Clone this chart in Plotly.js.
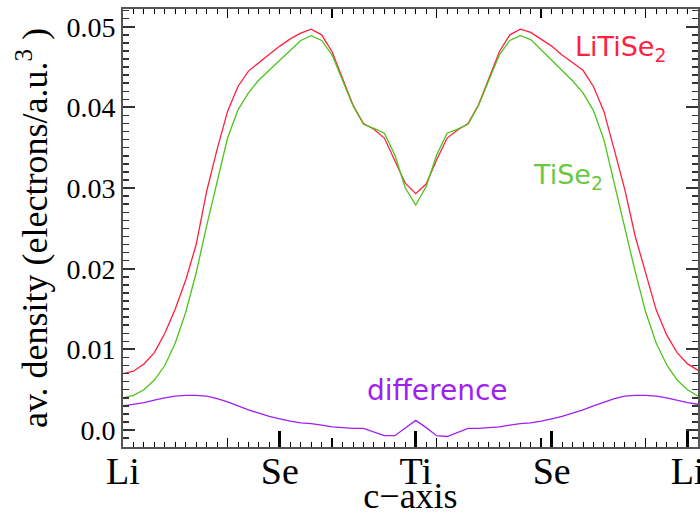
<!DOCTYPE html>
<html>
<head>
<meta charset="utf-8">
<script src="https://cdn.plot.ly/plotly-3.0.1.min.js"></script>
<style>
html,body{margin:0;padding:0;background:#fff}
#chart{width:700px;height:516px}
#chart .ytick text, #chart .g-ytitle text, #chart .g-ytitle tspan,
#chart .xtick text, #chart .g-xtitle text { font-family: 'Liberation Serif', serif !important; }
</style>
</head>
<body>
<div id="chart"></div>
<script>
// c-axis sampling positions (grid index along c)
const cPos = [0,1,2,3,4,5,6,7,8,9,10,11,12,13,14,15,16,17,18,19,20,21,22,23,24,25,26,27,
  28,29,30,31,32,33,34,35,36,37,38,39,40,41,42,43,44,45,46,47,48,49,50,51,52,53,54,55];

// planar averaged density, LiTiSe2
const liTiSe2 = [0.0070,0.0073,0.0082,0.0096,0.0120,0.0150,0.0186,0.0230,0.0296,0.0348,
  0.0395,0.0426,0.0445,0.0456,0.0466,0.0476,0.0485,0.0492,0.0497,0.0490,
  0.0469,0.0436,0.0403,0.0380,0.0373,0.0362,0.0335,0.0306,0.0293,
  0.0305,0.0335,0.0362,0.0372,0.0380,0.0403,0.0436,0.0469,0.0490,0.0497,
  0.0493,0.0485,0.0476,0.0465,0.0456,0.0446,0.0426,0.0395,0.0347,0.0298,
  0.0240,0.0196,0.0149,0.0118,0.0096,0.0082,0.0074];

// planar averaged density, TiSe2
const tiSe2 = [0.0040,0.0043,0.0050,0.0062,0.0080,0.0108,0.0146,0.0195,0.0253,0.0307,
  0.0362,0.0397,0.0418,0.0434,0.0446,0.0459,0.0471,0.0483,0.0489,0.0483,
  0.0465,0.0434,0.0402,0.0379,0.0374,0.0368,0.0341,0.0300,0.0279,
  0.0302,0.0341,0.0368,0.0373,0.0379,0.0402,0.0434,0.0465,0.0483,0.0489,
  0.0484,0.0471,0.0459,0.0446,0.0433,0.0418,0.0396,0.0360,0.0306,0.0252,
  0.0196,0.0146,0.0108,0.0081,0.0062,0.0050,0.0042];

// difference
const diffDensity = [0.0030,0.0032,0.0034,0.0037,0.0040,0.0042,0.0043,0.0043,0.0042,0.0039,
  0.0035,0.0030,0.0025,0.0021,0.0017,0.0014,0.0011,0.0009,0.0008,0.0006,
  0.0004,0.0003,0.0002,0.0002,-0.0003,-0.0007,-0.0007,0.0003,0.0012,
  0.0003,-0.0007,-0.0008,-0.0003,0.0002,0.0002,0.0003,0.0004,0.0006,0.0008,
  0.0009,0.0011,0.0014,0.0017,0.0021,0.0025,0.0030,0.0035,0.0039,0.0042,
  0.0043,0.0043,0.0042,0.0040,0.0037,0.0034,0.0032];

// atom tick marks along c
const atomTickPos = [0,15,28,41,54];
const atomTickText = ['Li','Se','Ti','Se','Li'];
const yTickVals = [0,0.01,0.02,0.03,0.04,0.05];
const yTickText = ['0.0','0.01','0.02','0.03','0.04','0.05'];

const RED = '#ff1f3f', GREEN = '#4cc41a', PURPLE = '#a020f0';
const serif = 'Liberation Serif';
const sans = 'DejaVu Sans';

const traces = [
  {x: cPos, y: liTiSe2, type: 'scatter', mode: 'lines', name: 'LiTiSe2', line: {color: RED, width: 1.3}},
  {x: cPos, y: tiSe2, type: 'scatter', mode: 'lines', name: 'TiSe2', line: {color: GREEN, width: 1.3}},
  {x: cPos, y: diffDensity, type: 'scatter', mode: 'lines', name: 'difference', line: {color: PURPLE, width: 1.3}},
  {x: [null], y: [null], xaxis: 'x2', yaxis: 'y', type: 'scatter', mode: 'lines', showlegend: false, hoverinfo: 'skip'},
  {x: [null], y: [null], xaxis: 'x3', yaxis: 'y', type: 'scatter', mode: 'lines', showlegend: false, hoverinfo: 'skip'}
];

const layout = {
  width: 700, height: 516,
  margin: {l: 123, r: 2, t: 9, b: 69},
  paper_bgcolor: '#fff', plot_bgcolor: '#fff',
  font: {family: serif, size: 28, color: '#000'},
  showlegend: false,
  xaxis: {
    range: [0, 55], tickmode: 'array', tickvals: atomTickPos, ticktext: atomTickText,
    ticks: 'inside', ticklen: 16, tickwidth: 3, tickcolor: '#000',
    minor: {dtick: 1, tick0: 0, ticks: 'inside', ticklen: 5, tickwidth: 1, tickcolor: '#000'},
    showline: true, linecolor: '#555', linewidth: 2, mirror: false,
    showgrid: false, zeroline: false,
    ticklabeloverflow: 'allow', ticklabelstandoff: -11,
    tickfont: {family: serif, size: 38, color: '#000'},
    title: {text: 'c\u2212axis', font: {family: serif, size: 36, color: '#000'}, standoff: 3}
  },
  xaxis2: {
    overlaying: 'x', side: 'top', anchor: 'y', range: [0, 55],
    tickmode: 'linear', tick0: 0, dtick: 10,
    ticks: 'inside', ticklen: 9, tickwidth: 1.5, tickcolor: '#000',
    minor: {dtick: 1, tick0: 0, ticks: 'inside', ticklen: 5, tickwidth: 1, tickcolor: '#000'},
    showticklabels: false, showline: true, linecolor: '#555', linewidth: 2,
    showgrid: false, zeroline: false
  },
  xaxis3: {
    overlaying: 'x', side: 'bottom', anchor: 'y', range: [0, 55],
    tickmode: 'array', tickvals: [10,20,30,40,50],
    ticks: 'inside', ticklen: 9, tickwidth: 1.5, tickcolor: '#000',
    showticklabels: false, showline: false, showgrid: false, zeroline: false
  },
  yaxis: {
    range: [-0.0021, 0.0522], tickmode: 'array', tickvals: yTickVals, ticktext: yTickText,
    ticks: 'inside', ticklen: 12, tickwidth: 2, tickcolor: '#333',
    minor: {dtick: 0.001, tick0: 0, ticks: 'inside', ticklen: 6, tickwidth: 1.5, tickcolor: '#333'},
    showline: true, linecolor: '#555', linewidth: 2, mirror: 'ticks',
    showgrid: false, zeroline: false,
    tickfont: {family: serif, size: 28, color: '#000'},
    title: {text: 'av. density (electrons/a.u.<sup>3</sup> )', font: {family: serif, size: 36, color: '#000'}, standoff: 8}
  },
  annotations: [
    {x: 43.0, y: 0.0473, xref: 'x', yref: 'y', xanchor: 'left', yanchor: 'middle', showarrow: false,
     text: 'LiTiSe<sub>2</sub>', font: {family: sans, size: 27, color: RED}},
    {x: 39.0, y: 0.0314, xref: 'x', yref: 'y', xanchor: 'left', yanchor: 'middle', showarrow: false,
     text: 'TiSe<sub>2</sub>', font: {family: sans, size: 27, color: '#6cc840'}},
    {x: 23.1, y: 0.0049, xref: 'x', yref: 'y', xanchor: 'left', yanchor: 'middle', showarrow: false,
     text: 'difference', font: {family: sans, size: 28, color: PURPLE}}
  ]
};

Plotly.newPlot('chart', traces, layout, {staticPlot: true});
</script>
</body>
</html>
